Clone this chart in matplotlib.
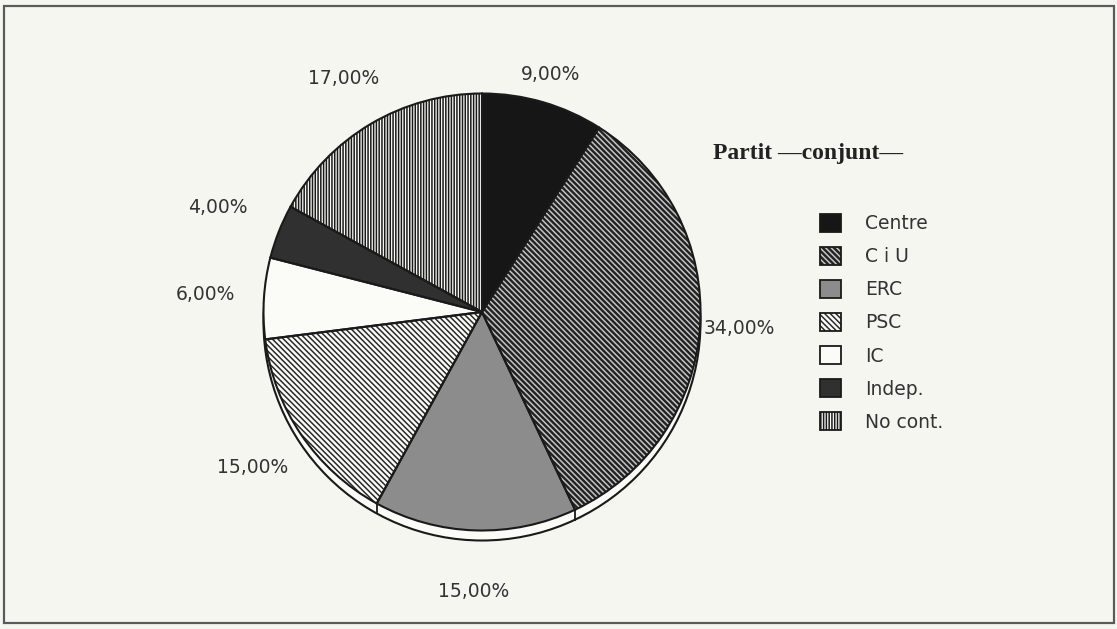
import numpy as np
import matplotlib
matplotlib.use("Agg")
import matplotlib.pyplot as plt
from matplotlib.patches import Patch, Circle, Rectangle

# ---- data ----
categories = ["Centre", "C i U", "ERC", "PSC", "IC", "Indep.", "No cont."]
values = [9, 34, 15, 15, 6, 4, 17]
title = "Partit —conjunt—"

# ---- styles ----
face_colors = ["#161616", "#222222", "#8c8c8c", "#fbfbf8", "#fbfbf8", "#303030", "#fbfbf8"]
hatch_colors = ["#161616", "#c4c4c4", "#8c8c8c", "#2a2a2a", "#fbfbf8", "#303030", "#1a1a1a"]
hatches = [None, "\\\\\\\\\\\\", None, "\\\\\\\\\\\\", None, None, "||||||"]
label_dist = [1.13, 1.18, 1.28, 1.27, 1.27, 1.30, 1.24]

W, H = 1117, 629
BG = "#f6f6f1"
cx, cy, R = 482, H - 312, 218.5
depth = 10

plt.rcParams["hatch.linewidth"] = 1.1


def style_hatch(p, hc, h):
    if h:
        p.set_hatch(h)
    if hasattr(p, "set_hatchcolor"):
        p.set_hatchcolor(hc)
    else:
        p._hatch_color = matplotlib.colors.to_rgba(hc)


fig = plt.figure(figsize=(W / 100, H / 100), dpi=100, facecolor=BG)
ax = fig.add_axes([0, 0, 1, 1])
ax.set_facecolor(BG)

# frame
ax.add_patch(Rectangle((4, H - 623), 1110, 617, fill=False, ec="#5a5a5a", lw=1.6, zorder=0))

# depth (side of the 3-D pie)
ax.add_patch(Circle((cx, cy - depth), R, fc="#fbfbf8", ec="#1a1a1a", lw=1.5, zorder=1))

# filled wedges with hatch colours
wedges, _ = ax.pie(values, startangle=90, counterclock=False, center=(cx, cy), radius=R,
                   colors=face_colors, wedgeprops=dict(linewidth=0), frame=True)
for w, hc, h in zip(wedges, hatch_colors, hatches):
    w.set_edgecolor(hc)
    w.set_zorder(2)
    style_hatch(w, hc, h)
# outlines
outl, _ = ax.pie(values, startangle=90, counterclock=False, center=(cx, cy), radius=R,
                 colors=["none"] * len(values),
                 wedgeprops=dict(linewidth=1.5, edgecolor="#1a1a1a", fill=False), frame=True)
for w in outl:
    w.set_zorder(3)

# vertical lines on the depth at wedge boundaries
for w in wedges:
    a = np.deg2rad(w.theta1)
    if np.sin(a) < -0.3:
        x0, y0 = cx + R * np.cos(a), cy + R * np.sin(a)
        ax.plot([x0, x0], [y0, y0 - depth], color="#1a1a1a", lw=1.3, zorder=3)

# percentage labels
total = sum(values)
for w, v, d in zip(wedges, values, label_dist):
    a = np.deg2rad((w.theta1 + w.theta2) / 2)
    txt = f"{100 * v / total:.2f}%".replace(".", ",")
    ax.text(cx + R * d * np.cos(a), cy + R * d * np.sin(a), txt, ha="center", va="center",
            fontsize=13.5, color="#333333", family="DejaVu Sans", zorder=4)

ax.set_xlim(0, W)
ax.set_ylim(0, H)
ax.set_aspect("equal")
ax.axis("off")

# title
ax.text(808, H - 153, title, ha="center", va="center", fontsize=17, fontweight="bold",
        family="Liberation Serif", color="#222222")

# legend
handles = []
for fc, hc, h in zip(face_colors, hatch_colors, hatches):
    p = Patch(facecolor=fc, edgecolor="#1a1a1a", lw=1.3)
    handles.append(p)
leg = ax.legend(handles, categories, loc="upper left", bbox_to_anchor=(803 / W, 1 - 197 / H),
                bbox_transform=fig.transFigure, frameon=False, prop=dict(family="DejaVu Sans", size=13.5),
                handlelength=1.1, handleheight=1.1, labelspacing=0.73, handletextpad=1.3)
for t in leg.get_texts():
    t.set_color("#333333")
for p, hc, h in zip(leg.get_patches(), hatch_colors, hatches):
    style_hatch(p, hc if h else "#1a1a1a", h)

fig.savefig("out.png", dpi=100, facecolor=BG)
